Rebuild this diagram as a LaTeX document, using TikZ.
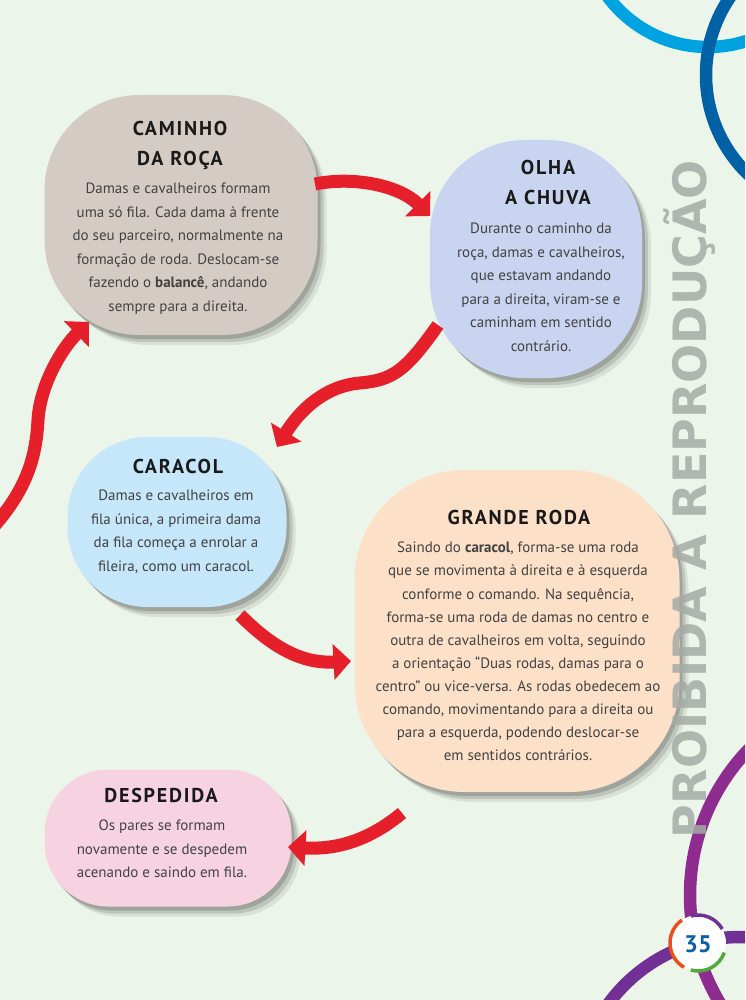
\documentclass[tikz,border=0pt]{standalone}
\usepackage{fontspec}
\setmainfont{PT Sans}
\newfontfamily\ttlfont[LetterSpace=9]{PT Sans}
\newfontfamily\wmfont{DejaVu Sans}
\usetikzlibrary{arrows.meta,shadows}
\definecolor{bg}{RGB}{236,245,234}
\definecolor{cA}{RGB}{212,203,196}
\definecolor{cB}{RGB}{200,212,240}
\definecolor{cC}{RGB}{198,230,250}
\definecolor{cD}{RGB}{253,224,200}
\definecolor{cE}{RGB}{247,211,226}
\definecolor{txt}{RGB}{66,66,66}
\definecolor{arr}{RGB}{229,32,43}
\definecolor{lblue}{RGB}{0,163,226}
\definecolor{dblue}{RGB}{0,97,164}
\definecolor{purA}{RGB}{142,44,143}
\definecolor{purB}{RGB}{112,48,150}
\definecolor{wmc}{RGB}{165,170,165}
\definecolor{pgblue}{RGB}{13,94,166}
\definecolor{pgorange}{RGB}{233,78,27}
\definecolor{pggreen}{RGB}{80,170,60}
\begin{document}
\begin{tikzpicture}[x=1pt,y=-1pt,
  blob/.style={shape=rectangle, draw=none, inner sep=0,
    drop shadow={shadow xshift=3pt,shadow yshift=-4pt,opacity=.16,fill=black},
    drop shadow={shadow xshift=6pt,shadow yshift=-7pt,opacity=.13,fill=black},
    drop shadow={shadow xshift=9pt,shadow yshift=-10pt,opacity=.08,fill=black}},
  ttl/.style={font={\ttlfont\bfseries\fontsize{20pt}{30pt}\selectfont}, align=center, inner sep=0, text=black!90},
  body/.style={font={\fontsize{15pt}{23.5pt}\selectfont}, align=center, inner sep=0, text=txt},
  conn/.style={draw=arr, line width=13pt, -{Triangle[width=35pt,length=17.5pt]}},
  ring/.style={line width=12.5pt}
]
\useasboundingbox (0,0) rectangle (745,1000);
\fill[bg] (0,0) rectangle (745,1000);
\begin{scope}
\clip (0,0) rectangle (745,1000);
\draw[ring, lblue] (708,-78) circle[radius=125];
\draw[ring, dblue] (844,75) circle[radius=138];
\draw[ring, purA] (900,895) circle[radius=210];
\draw[ring, purB] (740,1100) circle[radius=163];
\end{scope}

% boxes
\node[blob, fill=cA, minimum width=273pt, minimum height=240pt, rounded corners=95pt] (b1) at (181,215) {};
\node[blob, fill=cB, minimum width=212pt, minimum height=238pt, rounded corners=95pt] (b2) at (536,259) {};
\node[blob, fill=cC, minimum width=219pt, minimum height=170pt, rounded corners=80pt] (b3) at (177,522) {};
\node[blob, fill=cD, minimum width=325pt, minimum height=322pt, rounded corners=110pt] (b4) at (517,631) {};
\node[blob, fill=cE, minimum width=247pt, minimum height=137pt, rounded corners=64pt] (b5) at (168,838) {};

% texts
\node[ttl, anchor=north] (t1) at (180,121) {CAMINHO\\DA ROÇA};
\node[body, anchor=north] (x1) at (178,183) {Damas e cavalheiros formam\\uma só fila. Cada dama à frente\\do seu parceiro, normalmente na\\formação de roda. Deslocam-se\\fazendo o \textbf{balancê}, andando\\sempre para a direita.};

\node[ttl, anchor=north] (t2) at (548,160) {OLHA\\A CHUVA};
\node[body, anchor=north] (x2) at (541,223) {Durante o caminho da\\roça, damas e cavalheiros,\\que estavam andando\\para a direita, viram-se e\\caminham em sentido\\contrário.};

\node[ttl, anchor=north] (t3) at (178,459) {CARACOL};
\node[body, anchor=north] (x3) at (176,490) {Damas e cavalheiros em\\fila única, a primeira dama\\da fila começa a enrolar a\\fileira, como um caracol.};

\node[ttl, anchor=north] (t4) at (519,510) {GRANDE RODA};
\node[body, anchor=north, font={\fontsize{15pt}{23.1pt}\selectfont}] (x4) at (518,542) {Saindo do \textbf{caracol}, forma-se uma roda\\que se movimenta à direita e à esquerda\\conforme o comando. Na sequência,\\forma-se uma roda de damas no centro e\\outra de cavalheiros em volta, seguindo\\a orientação “Duas rodas, damas para o\\centro” ou vice-versa. As rodas obedecem ao\\comando, movimentando para a direita ou\\para a esquerda, podendo deslocar-se\\em sentidos contrários.};

\node[ttl, anchor=north] (t5) at (161,788) {DESPEDIDA};
\node[body, anchor=north] (x5) at (162,820) {Os pares se formam\\novamente e se despedem\\acenando e saindo em fila.};

% connectors
\coordinate (s1) at (315,184); \coordinate (e1) at (430,216);
\coordinate (s2) at (438,325); \coordinate (m2) at (360,383); \coordinate (e2) at (277,447);
\coordinate (s3) at (240,615); \coordinate (e3) at (351,661);
\coordinate (s4) at (402,813); \coordinate (e4) at (288,847);
\coordinate (s5) at (-5,525); \coordinate (m5) at (38,420); \coordinate (e5) at (89,322);
\draw[conn] (s1) .. controls (355,176) and (400,186) .. (e1);
\draw[conn] (s2) .. controls (405,372) and (392,380) .. (m2) .. controls (325,386) and (300,410) .. (e2);
\draw[conn] (s3) .. controls (270,645) and (300,664) .. (e3);
\draw[conn] (s4) .. controls (372,838) and (340,850) .. (e4);
\begin{scope}
\clip (0,0) rectangle (745,1000);
\draw[conn] (s5) .. controls (25,490) and (36,460) .. (m5) .. controls (40,385) and (62,348) .. (e5);
\end{scope}

% watermark
\node[rotate=90, anchor=base, inner sep=0, text=wmc, text opacity=0.85, font={\wmfont\bfseries\fontsize{46pt}{46pt}\selectfont}] (wm) at (706,499) {PROIBIDA A REPRODUÇÃO};

% page number
\node[circle, fill=white, minimum size=56pt, inner sep=0] (pg) at (698,943) {};
\draw[pgorange, line width=3.5pt] (pg.center) ++(120:28) arc[start angle=120, end angle=235, radius=28];
\draw[pggreen, line width=3.5pt] (pg.center) ++(20:28) arc[start angle=20, end angle=105, radius=28];
\draw[purB, line width=3.5pt] (pg.center) ++(255:28) arc[start angle=255, end angle=330, radius=28];
\node[text=pgblue, font={\bfseries\fontsize{24pt}{24pt}\selectfont}, inner sep=0] (pgn) at (698,944) {35};
\end{tikzpicture}
\end{document}
